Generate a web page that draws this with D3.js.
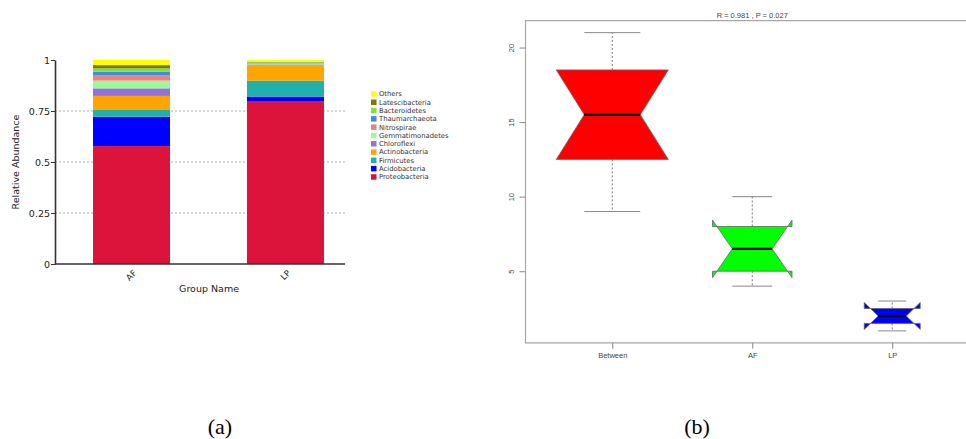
<!DOCTYPE html>
<html>
<head>
<meta charset="utf-8">
<script src="https://cdn.jsdelivr.net/npm/d3@7"></script>
<style>
  body { margin: 0; background: #fff; overflow: hidden; }
  svg { display: block; }
</style>
</head>
<body>
<svg width="966" height="439"></svg>
<script>
// ---- panel (a): stacked relative abundance ----
const groups = ["AF", "LP"];
const phyla = ["Proteobacteria", "Acidobacteria", "Firmicutes", "Actinobacteria", "Chloroflexi",
  "Gemmatimonadetes", "Nitrospirae", "Thaumarchaeota", "Bacteroidetes", "Latescibacteria", "Others"];
const phylaColors = ["#dc143c", "#0000ff", "#20b2aa", "#ffa500", "#9370db",
  "#98fb98", "#f08080", "#3b8ee0", "#7ce23c", "#7a7a00", "#ffff00"];
const afValues = [0.578, 0.144, 0.036, 0.066, 0.037, 0.038, 0.027, 0.017, 0.016, 0.016, 0.025];
const lpValues = [0.796, 0.025, 0.078, 0.076, 0.003, 0.004, 0.003, 0.002, 0.002, 0.002, 0.009];
const yTicksA = [0, 0.25, 0.5, 0.75, 1];

// ---- panel (b): notched boxplot ----
const boxGroups = ["Between", "AF", "LP"];
const whiskLow = [9, 4, 1];
const q1 = [12.5, 5, 1.5];
const med = [15.5, 6.5, 2];
const q3 = [18.5, 8, 2.5];
const whiskHigh = [21, 10, 3];
const notchLow = [12.5, 4.57, 1.1];
const notchHigh = [18.5, 8.43, 2.9];
const relWidth = [1, 0.71, 0.5];
const yTicksB = [5, 10, 15, 20];
const statText = "R =  0.981 ,  P =  0.027";

const svg = d3.select("svg");

// ===== (a) =====
const ga = svg.append("g");
const ya = d3.scaleLinear().domain([0, 1]).range([264, 60]);
const xa = d3.scaleBand().domain(groups).range([55, 362]).paddingInner(0.5).paddingOuter(0.247);
const color = d3.scaleOrdinal().domain(phyla).range(phylaColors);

// grid
ga.selectAll("line.grid")
  .data(yTicksA.filter(d => d > 0 && d < 1))
  .enter().append("line")
  .attr("x1", 55).attr("x2", 345)
  .attr("y1", d => ya(d)).attr("y2", d => ya(d))
  .attr("stroke", "#9a9a9a").attr("stroke-width", 0.8)
  .attr("stroke-dasharray", "2,2");

const rows = groups.map((g, i) => {
  const vals = i === 0 ? afValues : lpValues;
  const r = { group: g };
  phyla.forEach((p, j) => r[p] = vals[j]);
  return r;
});
const stacked = d3.stack().keys(phyla)(rows);

ga.selectAll("g.layer")
  .data(stacked)
  .enter().append("g")
  .attr("fill", d => color(d.key))
  .selectAll("rect")
  .data(d => d)
  .enter().append("rect")
  .attr("x", d => xa(d.data.group))
  .attr("width", xa.bandwidth())
  .attr("y", d => ya(d[1]))
  .attr("height", d => ya(d[0]) - ya(d[1]));

// axes
const axisL = ga.append("g").attr("transform", "translate(55,0)")
  .call(d3.axisLeft(ya).tickValues(yTicksA).tickFormat(d3.format("")).tickSize(4).tickSizeOuter(0));
axisL.select(".domain").attr("stroke", "#333").attr("stroke-width", 1.6);
axisL.selectAll(".tick line").attr("stroke", "#333");
axisL.selectAll("text").attr("font-family", "DejaVu Sans").attr("font-size", 9.5).attr("fill", "#222").attr("x", -5);

ga.append("line").attr("x1", 55).attr("x2", 345).attr("y1", ya(0)).attr("y2", ya(0))
  .attr("stroke", "#333").attr("stroke-width", 1.6);

ga.selectAll("text.xlab")
  .data(groups)
  .enter().append("text")
  .attr("transform", d => `translate(${xa(d) + xa.bandwidth() / 2 + 2},${ya(0) + 6}) rotate(-45)`)
  .attr("text-anchor", "end")
  .attr("dy", "0.6em")
  .attr("font-family", "DejaVu Sans").attr("font-size", 8.5).attr("fill", "#222")
  .text(d => d);

ga.append("text").attr("x", 209).attr("y", 292).attr("text-anchor", "middle")
  .attr("font-family", "DejaVu Sans").attr("font-size", 9.5).attr("fill", "#222")
  .text("Group Name");
ga.append("text").attr("transform", "translate(19,162) rotate(-90)").attr("text-anchor", "middle")
  .attr("font-family", "DejaVu Sans").attr("font-size", 9.5).attr("fill", "#222")
  .text("Relative Abundance");

// legend (Others on top)
const legendOrder = phyla.slice().reverse();
const leg = ga.append("g").attr("transform", "translate(371,94)");
const li = leg.selectAll("g").data(legendOrder).enter().append("g")
  .attr("transform", (d, i) => `translate(0,${i * 8.3})`);
li.append("rect").attr("x", 0).attr("y", -2.8).attr("width", 5.5).attr("height", 5.5).attr("fill", d => color(d));
li.append("text").attr("x", 8).attr("y", 0).attr("dy", "0.35em")
  .attr("font-family", "DejaVu Sans").attr("font-size", 6.8).attr("fill", "#333").text(d => d);

// ===== (b) =====
const gb = svg.append("g");
const yb = d3.scaleLinear().domain([0.2, 21.8]).range([342.8, 20.7]);
const xb = d3.scaleLinear().domain([0.38, 3.62]).range([525.5, 979]);
const boxHalf = 56;

// frame (right edge falls outside the picture)
gb.append("path")
  .attr("d", d3.line()([[xb(3.62), yb(21.8)], [xb(0.38), yb(21.8)], [xb(0.38), yb(0.2)], [xb(3.62), yb(0.2)]]))
  .attr("fill", "none").attr("stroke", "#a8a8a8").attr("stroke-width", 1.2);

const boxes = boxGroups.map((g, i) => ({
  name: g, x: xb(i + 1), w: boxHalf * relWidth[i],
  lo: whiskLow[i], q1: q1[i], med: med[i], q3: q3[i], hi: whiskHigh[i],
  nlo: notchLow[i], nhi: notchHigh[i]
}));
const boxFill = ["#ff0000", "#00ff00", "#0000ff"];

const bg = gb.selectAll("g.box").data(boxes).enter().append("g");
// whiskers
bg.append("line").attr("x1", d => d.x).attr("x2", d => d.x).attr("y1", d => yb(d.q3)).attr("y2", d => yb(d.hi))
  .attr("stroke", "#777").attr("stroke-dasharray", "2,2");
bg.append("line").attr("x1", d => d.x).attr("x2", d => d.x).attr("y1", d => yb(d.q1)).attr("y2", d => yb(d.lo))
  .attr("stroke", "#777").attr("stroke-dasharray", "2,2");
bg.append("line").attr("x1", d => d.x - d.w / 2).attr("x2", d => d.x + d.w / 2).attr("y1", d => yb(d.hi)).attr("y2", d => yb(d.hi))
  .attr("stroke", "#888").attr("stroke-width", 1);
bg.append("line").attr("x1", d => d.x - d.w / 2).attr("x2", d => d.x + d.w / 2).attr("y1", d => yb(d.lo)).attr("y2", d => yb(d.lo))
  .attr("stroke", "#888").attr("stroke-width", 1);
// notched box
bg.append("path")
  .attr("d", d => d3.line()([
    [d.x - d.w, yb(d.q1)], [d.x - d.w, yb(d.nlo)], [d.x - d.w / 2, yb(d.med)], [d.x - d.w, yb(d.nhi)],
    [d.x - d.w, yb(d.q3)], [d.x + d.w, yb(d.q3)], [d.x + d.w, yb(d.nhi)], [d.x + d.w / 2, yb(d.med)],
    [d.x + d.w, yb(d.nlo)], [d.x + d.w, yb(d.q1)]
  ]) + "Z")
  .attr("fill", (d, i) => boxFill[i]).attr("stroke", "#666").attr("stroke-width", 0.8);
bg.append("line").attr("x1", d => d.x - d.w / 2).attr("x2", d => d.x + d.w / 2).attr("y1", d => yb(d.med)).attr("y2", d => yb(d.med))
  .attr("stroke", "#000").attr("stroke-width", 2.2);

// axes
const axB = gb.append("g").attr("transform", `translate(${xb(0.38)},0)`)
  .call(d3.axisLeft(yb).tickValues(yTicksB).tickSize(6));
axB.select(".domain").remove();
axB.selectAll(".tick line").attr("stroke", "#888");
axB.selectAll("text").attr("font-family", "Liberation Sans").attr("font-size", 7.5).attr("fill", "#444")
  .attr("transform", "rotate(-90)").attr("x", 0).attr("y", -12).attr("dy", 0).attr("text-anchor", "middle");

const axBx = gb.append("g").attr("transform", `translate(0,${yb(0.2)})`)
  .call(d3.axisBottom(xb).tickValues([1, 2, 3]).tickFormat((d, i) => boxGroups[i]).tickSize(6));
axBx.select(".domain").remove();
axBx.selectAll(".tick line").attr("stroke", "#888");
axBx.selectAll("text").attr("font-family", "Liberation Sans").attr("font-size", 7.5).attr("fill", "#444").attr("y", 10);

gb.append("text").attr("x", xb(2)).attr("y", 17.5).attr("text-anchor", "middle")
  .attr("font-family", "Liberation Sans").attr("font-size", 7.5).attr("fill", "#444").text(statText);

// panel captions
svg.append("text").attr("x", 220).attr("y", 434).attr("text-anchor", "middle")
  .attr("font-family", "Liberation Serif").attr("font-size", 22).attr("fill", "#000").text("(a)");
svg.append("text").attr("x", 697).attr("y", 434).attr("text-anchor", "middle")
  .attr("font-family", "Liberation Serif").attr("font-size", 22).attr("fill", "#000").text("(b)");
</script>
</body>
</html>
